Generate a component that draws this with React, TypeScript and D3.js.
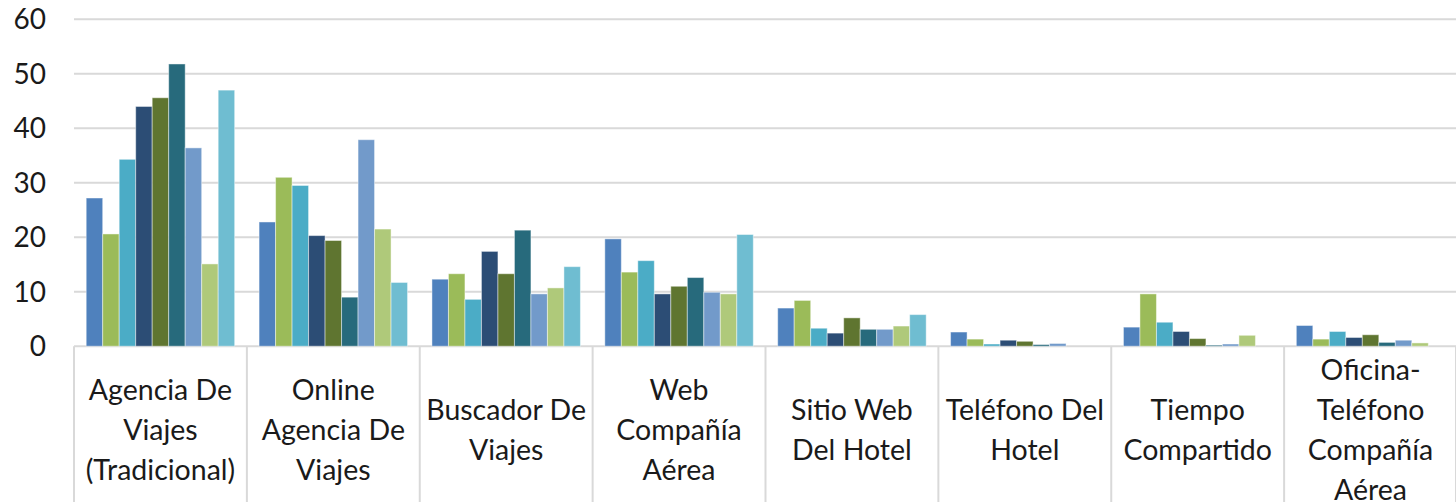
import React from "react";
import * as d3 from "d3";

const categories: string[][] = [
  ["Agencia De", "Viajes", "(Tradicional)"],
  ["Online", "Agencia De", "Viajes"],
  ["Buscador De", "Viajes"],
  ["Web", "Compañía", "Aérea"],
  ["Sitio Web", "Del Hotel"],
  ["Teléfono Del", "Hotel"],
  ["Tiempo", "Compartido"],
  ["Oficina-", "Teléfono", "Compañía", "Aérea"],
];

const s1 = [27.2, 22.8, 12.3, 19.7, 7.0, 2.6, 3.5, 3.8];
const s2 = [20.6, 31.0, 13.3, 13.6, 8.4, 1.3, 9.6, 1.3];
const s3 = [34.3, 29.5, 8.6, 15.7, 3.3, 0.4, 4.4, 2.7];
const s4 = [44.0, 20.3, 17.4, 9.6, 2.4, 1.1, 2.7, 1.6];
const s5 = [45.6, 19.4, 13.3, 11.0, 5.2, 0.9, 1.4, 2.1];
const s6 = [51.8, 9.0, 21.3, 12.6, 3.1, 0.3, 0.2, 0.7];
const s7 = [36.4, 37.9, 9.6, 9.9, 3.1, 0.5, 0.4, 1.1];
const s8 = [15.1, 21.5, 10.7, 9.6, 3.7, 0, 2.0, 0.6];
const s9 = [47.0, 11.7, 14.6, 20.5, 5.8, 0, 0, 0];
const series = [s1, s2, s3, s4, s5, s6, s7, s8, s9];
const colors = ["#4F81BD", "#9BBB59", "#4BACC6", "#2C4D75", "#5F7530", "#276A7C", "#729ACA", "#AFC97A", "#6FBDD1"];
const yTicks = [0, 10, 20, 30, 40, 50, 60];

export default function App() {
  const W = 1456, H = 502;
  const left = 74, right = 1457, top = 19.3, bottom = 346.2;
  const x0 = d3.scaleBand<number>().domain(d3.range(categories.length)).range([left, right]).paddingInner(0).paddingOuter(0);
  const bw = x0.bandwidth();
  const gap = 12.2;
  const x1 = d3.scaleBand<number>().domain(d3.range(series.length)).range([gap, bw - gap]).padding(0);
  const y = d3.scaleLinear().domain([0, 60]).range([bottom, top]);
  const font = "Lato, 'Open Sans', sans-serif";
  return (
    <svg width={W} height={H} style={{ position: "absolute", left: 0, top: 0, background: "#fff" }}>
      {yTicks.map((t) => (
        <g key={t}>
          <line x1={left} x2={right} y1={y(t)} y2={y(t)} stroke="#d9d9d9" strokeWidth={2} />
          <text x={46} y={y(t)} dy="0.36em" textAnchor="end" fontFamily={font} fontSize={28} fill="#1a1a1a">{t}</text>
        </g>
      ))}
      {d3.range(categories.length + 1).map((i) => {
        const xx = i < categories.length ? x0(i)! : right - 1;
        return <line key={i} x1={xx} x2={xx} y1={bottom} y2={H} stroke="#d9d9d9" strokeWidth={2} />;
      })}
      {series.map((s, si) =>
        s.map((v, ci) => (
          v > 0 ? (
            <rect key={si + "-" + ci} x={x0(ci)! + x1(si)!} y={y(v)} width={x1.bandwidth()} height={bottom - y(v)}
              fill={colors[si]} stroke="#ffffff" strokeOpacity={0.45} strokeWidth={1} />
          ) : null
        ))
      )}
      {categories.map((lines, ci) => {
        const cx = x0(ci)! + bw / 2;
        const lh = 40;
        const start = 430 - ((lines.length - 1) * lh) / 2;
        return (
          <text key={ci} textAnchor="middle" fontFamily={font} fontSize={28.5} fill="#1a1a1a">
            {lines.map((l, li) => (
              <tspan key={li} x={cx} y={start + li * lh} dy="0.36em">{l}</tspan>
            ))}
          </text>
        );
      })}
    </svg>
  );
}
